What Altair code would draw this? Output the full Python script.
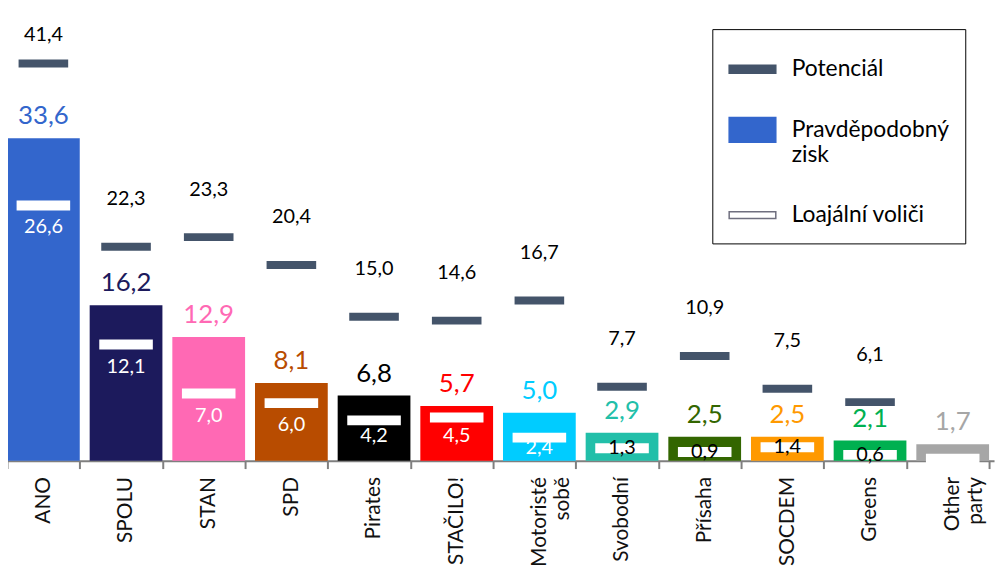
import altair as alt
import pandas as pd

parties = ["ANO", "SPOLU", "STAN", "SPD", "Pirates", "STAČILO!", "Motoristé sobě",
           "Svobodní", "Přísaha", "SOCDEM", "Greens", "Other party"]
likely = [33.6, 16.2, 12.9, 8.1, 6.8, 5.7, 5.0, 2.9, 2.5, 2.5, 2.1, 1.7]
potential = [41.4, 22.3, 23.3, 20.4, 15.0, 14.6, 16.7, 7.7, 10.9, 7.5, 6.1, None]
loyal = [26.6, 12.1, 7.0, 6.0, 4.2, 4.5, 2.4, 1.3, 0.9, 1.4, 0.6, 0.2]
loyal_labels = ["26,6", "12,1", "7,0", "6,0", "4,2", "4,5", "2,4", "1,3", "0,9", "1,4", "0,6", ""]
colors = ["#3366CC", "#1C1A5C", "#FF69B4", "#B84C00", "#000000", "#FF0000", "#00CCFF",
          "#22BFA9", "#336600", "#FF9900", "#00B050", "#A6A6A6"]

legend_items = ["Potenciál", "Pravděpodobný zisk", "Loajální voliči"]

FONT = "Lato"
POT_COLOR = "#44546A"

df = pd.DataFrame({
    "party": parties, "likely": likely, "potential": potential,
    "loyal": loyal, "loyal_label": loyal_labels, "color": colors,
})

yscale = alt.Scale(domain=[0, 46.95], nice=False, zero=True)

x_enc = alt.X(
    "party:N", sort=parties,
    scale=alt.Scale(paddingInner=0.12, paddingOuter=0.06),
    axis=alt.Axis(
        title=None, labelAngle=270, labelExpr="split(datum.label, ' ')",
        labelFont=FONT, labelFontSize=21, labelColor="#111111", labelLineHeight=23,
        labelPadding=8, domainColor="#7F7F7F", domainWidth=2, tickColor="#7F7F7F",
        tickWidth=2, tickSize=8, tickBand="extent", grid=False, labelLimit=200,
    ),
)

base = alt.Chart(df).encode(x=x_enc)

bars = base.mark_bar().encode(
    y=alt.Y("likely:Q", scale=yscale, axis=None),
    color=alt.Color("color:N", scale=None),
)

loyal_ticks = base.mark_tick(color="white", size=54, thickness=10, opacity=1).encode(
    y=alt.Y("loyal:Q", scale=yscale, axis=None)
)

pot_ticks = base.transform_filter("isValid(datum.potential)").mark_tick(
    color=POT_COLOR, size=50, thickness=8, opacity=1
).encode(y=alt.Y("potential:Q", scale=yscale, axis=None))

pot_labels = base.transform_filter("isValid(datum.potential)").transform_calculate(
    ly="min(datum.potential + 4.96, 44.4)",
    txt="replace(format(datum.potential, '.1f'), '.', ',')",
).mark_text(font=FONT, fontSize=20, color="black", baseline="middle").encode(
    y=alt.Y("ly:Q", scale=yscale, axis=None), text="txt:N"
)

likely_labels = base.transform_calculate(
    txt="replace(format(datum.likely, '.1f'), '.', ',')",
).mark_text(font=FONT, fontSize=26, baseline="middle", dy=-22).encode(
    y=alt.Y("likely:Q", scale=yscale, axis=None), text="txt:N",
    color=alt.Color("color:N", scale=None),
)

loyal_text = base.transform_calculate(
    ly="datum.loyal >= 2 ? max(datum.loyal - 2.3, min(datum.loyal - 1.1, 2.6)) : datum.loyal",
).mark_text(font=FONT, fontSize=20, baseline="middle").encode(
    y=alt.Y("ly:Q", scale=yscale, axis=None), text="loyal_label:N",
    color=alt.condition("datum.loyal >= 2", alt.value("white"), alt.value("black")),
)

leg = alt.Legend(
    title=None, orient="none", legendX=716, legendY=19, padding=16,
    strokeColor="black", fillColor="white", symbolSize=2209, symbolOpacity=1,
    symbolStrokeWidth=1.5, labelFont=FONT, labelFontSize=23, labelColor="black",
    labelOffset=15, rowPadding=24, labelLimit=300,
    labelExpr="datum.label == 'Pravděpodobný zisk' ? ['Pravděpodobný', 'zisk'] : datum.label",
)
paths = [
    "M-1,-0.17H1V0.17H-1Z",
    "M-1,-0.53H1V0.53H-1Z",
    "M-1,-0.14H1V0.14H-1Z",
]
legend_layer = alt.Chart(pd.DataFrame({"item": legend_items})).mark_point(
    filled=True, opacity=0
).encode(
    fill=alt.Fill("item:N", scale=alt.Scale(domain=legend_items, range=[POT_COLOR, "#3366CC", "white"]), legend=leg),
    stroke=alt.Stroke("item:N", scale=alt.Scale(domain=legend_items, range=[POT_COLOR, "#3366CC", "#6F6F7F"]), legend=leg),
    shape=alt.Shape("item:N", scale=alt.Scale(domain=legend_items, range=paths), legend=leg),
)

chart = alt.layer(
    bars, loyal_ticks, pot_ticks, pot_labels, likely_labels, loyal_text, legend_layer
).properties(
    width=1000, height=454,
    autosize=alt.AutoSizeParams(type="none"),
    padding={"left": -6, "top": 0, "right": 4, "bottom": 115},
    background="white",
).configure_view(strokeWidth=0)

chart.save("out.html", embed_options={"renderer": "svg", "actions": False})
